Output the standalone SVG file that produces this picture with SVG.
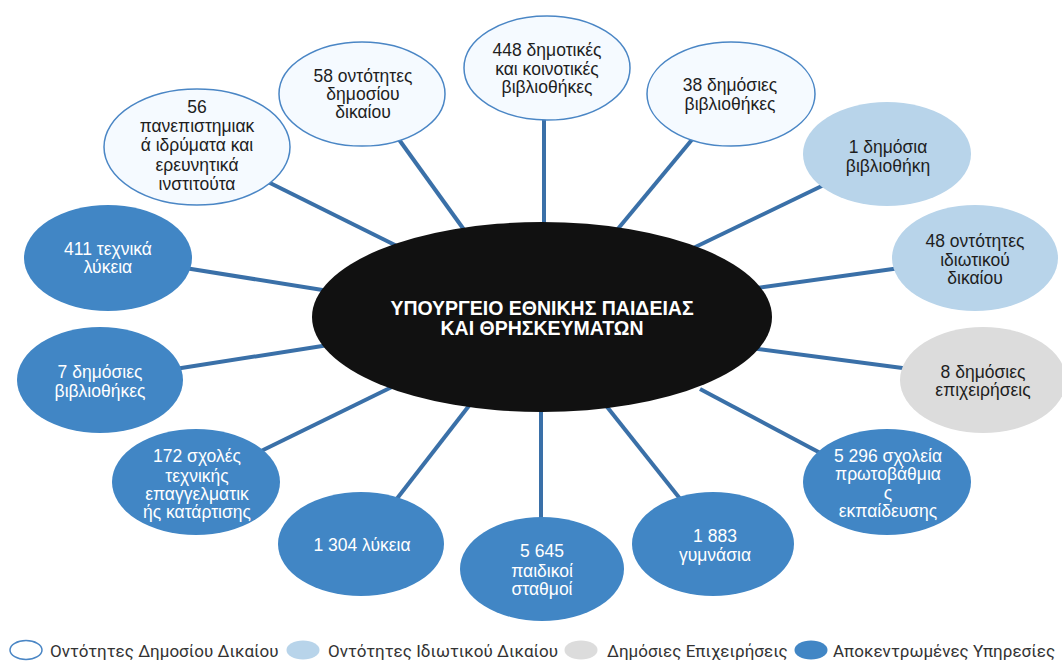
<svg xmlns="http://www.w3.org/2000/svg" width="1062" height="662" viewBox="0 0 1062 662">
<style>
text{font-family:"Liberation Sans",Arial,sans-serif;text-anchor:middle}
.t{font-size:17.5px;fill:#1e1e1e}
.w{font-size:17.5px;fill:#ffffff}
.pub{fill:#f5faff;stroke:#4a86c5;stroke-width:1.5}
.priv{fill:#b8d4ea}
.ent{fill:#dcdcdc}
.dec{fill:#4186c5}
.conn line{stroke:#3a70a8;stroke-width:4;stroke-linecap:butt}
.lg{font-size:17px;fill:#333;text-anchor:start;font-family:Roboto,"Liberation Sans",sans-serif}
.title{font-size:19.5px;font-weight:bold;fill:#ffffff}
</style>
<rect width="1062" height="662" fill="#ffffff"/>
<g id="connectors" class="conn">
<line x1="262" y1="179" x2="405" y2="250"/>
<line x1="395" y1="134" x2="470" y2="238"/>
<line x1="544" y1="115" x2="544" y2="230"/>
<line x1="695" y1="136" x2="612" y2="236"/>
<line x1="828" y1="183" x2="685" y2="252"/>
<line x1="900" y1="268" x2="750" y2="289"/>
<line x1="910" y1="369" x2="750" y2="348"/>
<line x1="826" y1="456" x2="700" y2="389"/>
<line x1="685" y1="505" x2="600" y2="398"/>
<line x1="541" y1="525" x2="541" y2="400"/>
<line x1="392" y1="505" x2="475" y2="398"/>
<line x1="255" y1="454" x2="398" y2="384"/>
<line x1="175" y1="369" x2="335" y2="344"/>
<line x1="185" y1="268" x2="335" y2="292"/>
</g>
<g id="ministry">
<ellipse cx="542" cy="317" rx="230" ry="95" fill="#111111"/>
<text class="title" x="542" y="315">ΥΠΟΥΡΓΕΙΟ ΕΘΝΙΚΗΣ ΠΑΙΔΕΙΑΣ</text>
<text class="title" x="542" y="335">ΚΑΙ ΘΡΗΣΚΕΥΜΑΤΩΝ</text>
</g>
<g id="n-universities">
<ellipse class="pub" cx="197" cy="147" rx="93" ry="58"/>
<text class="t" x="197" y="113">56</text>
<text class="t" x="197" y="132">πανεπιστημιακ</text>
<text class="t" x="197" y="151">ά ιδρύματα και</text>
<text class="t" x="197" y="171">ερευνητικά</text>
<text class="t" x="197" y="190">ινστιτούτα</text>
</g>
<g id="n-public-law">
<ellipse class="pub" cx="362" cy="94" rx="83" ry="52"/>
<text class="t" x="363" y="82">58 οντότητες</text>
<text class="t" x="363" y="100">δημοσίου</text>
<text class="t" x="363" y="118">δικαίου</text>
</g>
<g id="n-municipal-libraries">
<ellipse class="pub" cx="547" cy="68" rx="83" ry="52"/>
<text class="t" x="547" y="56">448 δημοτικές</text>
<text class="t" x="547" y="75">και κοινοτικές</text>
<text class="t" x="547" y="93">βιβλιοθήκες</text>
</g>
<g id="n-38-libraries">
<ellipse class="pub" cx="731" cy="94" rx="84" ry="52"/>
<text class="t" x="730" y="91">38 δημόσιες</text>
<text class="t" x="730" y="110">βιβλιοθήκες</text>
</g>
<g id="n-1-library">
<ellipse class="priv" cx="887" cy="154" rx="84" ry="52"/>
<text class="t" x="888" y="153">1 δημόσια</text>
<text class="t" x="888" y="172">βιβλιοθήκη</text>
</g>
<g id="n-private-law">
<ellipse class="priv" cx="975" cy="258" rx="83" ry="53"/>
<text class="t" x="975" y="247">48 οντότητες</text>
<text class="t" x="975" y="266">ιδιωτικού</text>
<text class="t" x="975" y="284">δικαίου</text>
</g>
<g id="n-enterprises">
<ellipse class="ent" cx="983" cy="380" rx="83" ry="53"/>
<text class="t" x="983" y="378">8 δημόσιες</text>
<text class="t" x="983" y="396">επιχειρήσεις</text>
</g>
<g id="n-primary">
<ellipse class="dec" cx="887" cy="482" rx="84" ry="53"/>
<text class="w" x="888" y="462">5 296 σχολεία</text>
<text class="w" x="888" y="480">πρωτοβάθμια</text>
<text class="w" x="888" y="499">ς</text>
<text class="w" x="888" y="517">εκπαίδευσης</text>
</g>
<g id="n-gymnasia">
<ellipse class="dec" cx="713" cy="544" rx="81" ry="52"/>
<text class="w" x="715" y="542">1 883</text>
<text class="w" x="715" y="561">γυμνάσια</text>
</g>
<g id="n-nurseries">
<ellipse class="dec" cx="542" cy="569" rx="82" ry="52"/>
<text class="w" x="542" y="557">5 645</text>
<text class="w" x="542" y="577">παιδικοί</text>
<text class="w" x="542" y="595">σταθμοί</text>
</g>
<g id="n-lykeia">
<ellipse class="dec" cx="361" cy="544" rx="83" ry="52"/>
<text class="w" x="362" y="551">1 304  λύκεια</text>
</g>
<g id="n-vocational">
<ellipse class="dec" cx="196" cy="482" rx="84" ry="53"/>
<text class="w" x="197" y="462">172 σχολές</text>
<text class="w" x="197" y="482">τεχνικής</text>
<text class="w" x="197" y="500">επαγγελματικ</text>
<text class="w" x="197" y="518">ής κατάρτισης</text>
</g>
<g id="n-7-libraries">
<ellipse class="dec" cx="100" cy="380" rx="83" ry="53"/>
<text class="w" x="100" y="378">7 δημόσιες</text>
<text class="w" x="100" y="397">βιβλιοθήκες</text>
</g>
<g id="n-technical">
<ellipse class="dec" cx="108" cy="258" rx="84" ry="53"/>
<text class="w" x="108" y="255">411 τεχνικά</text>
<text class="w" x="108" y="273">λύκεια</text>
</g>
<g id="legend">
<ellipse cx="26" cy="650" rx="16" ry="9.5" fill="#ffffff" stroke="#4a86c5" stroke-width="1.5"/>
<text class="lg" x="50" y="657">Οντότητες Δημοσίου Δικαίου</text>
<ellipse cx="303" cy="650" rx="16.5" ry="9.5" fill="#b8d4ea"/>
<text class="lg" x="328" y="657">Οντότητες Ιδιωτικού Δικαίου</text>
<ellipse cx="581" cy="650" rx="16.5" ry="9.5" fill="#dcdcdc"/>
<text class="lg" x="607" y="657">Δημόσιες Επιχειρήσεις</text>
<ellipse cx="811" cy="650" rx="16.5" ry="9.5" fill="#4186c5"/>
<text class="lg" x="833" y="657">Αποκεντρωμένες Υπηρεσίες</text>
</g>
</svg>
